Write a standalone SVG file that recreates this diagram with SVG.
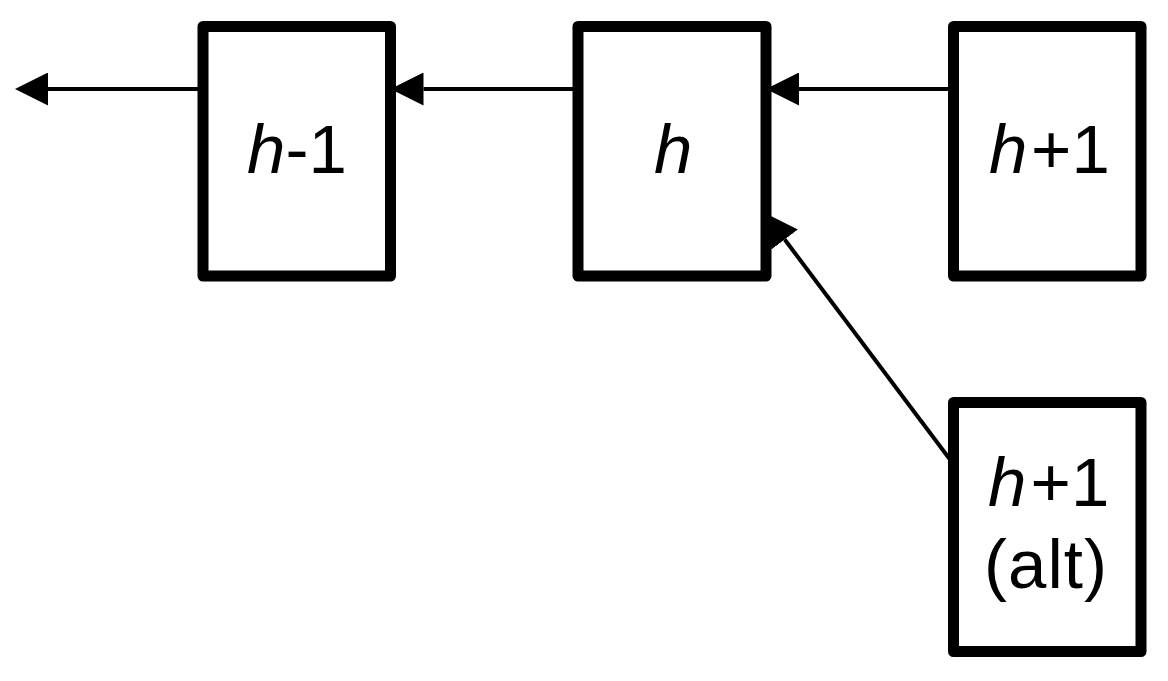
<svg xmlns="http://www.w3.org/2000/svg" width="1168" height="681" viewBox="0 0 1168 681">
<style>
.box{fill:#fff;stroke:#000;stroke-width:11;stroke-linejoin:round}
.lbl{font-family:"Liberation Sans",Arial,sans-serif;font-size:69px;fill:#000}
.it{font-style:italic}
.conn{stroke:#000;stroke-width:4;fill:none}
</style>
<defs>
<marker id="ah" markerUnits="userSpaceOnUse" markerWidth="33" markerHeight="33" viewBox="0 0 33 33" refX="0" refY="16.5" orient="auto">
<path d="M0,0 L33,16.5 L0,33 Z" fill="#000"/>
</marker>
</defs>
<g id="connectors">
<line class="conn" x1="203" y1="89" x2="48" y2="89" marker-end="url(#ah)"/>
<line class="conn" x1="578" y1="89" x2="423.5" y2="89" marker-end="url(#ah)"/>
<line class="conn" x1="953.5" y1="89" x2="799" y2="89" marker-end="url(#ah)"/>
<line class="conn" x1="950" y1="459.5" x2="784.7" y2="239.5" marker-end="url(#ah)"/>
</g>
<g id="node-hm1">
<rect class="box" x="203" y="26.5" width="187.5" height="249.5"/>
<text class="lbl" y="173"><tspan class="it" x="247">h</tspan><tspan x="285.5">-</tspan><tspan x="308.5">1</tspan></text>
</g>
<g id="node-h">
<rect class="box" x="578" y="26.5" width="188" height="249.5"/>
<text class="lbl it" x="654" y="173">h</text>
</g>
<g id="node-hp1">
<rect class="box" x="953.5" y="26.5" width="187.5" height="249.5"/>
<text class="lbl" y="173"><tspan class="it" x="989">h</tspan><tspan x="1031">+</tspan><tspan x="1071.5">1</tspan></text>
</g>
<g id="node-hp1alt">
<rect class="box" x="953.5" y="402.5" width="187.5" height="249"/>
<text class="lbl" y="505.5"><tspan class="it" x="988">h</tspan><tspan x="1030.5">+</tspan><tspan x="1071">1</tspan></text>
<text class="lbl" x="1046" y="588" text-anchor="middle" style="letter-spacing:1px">(alt)</text>
</g>
</svg>
